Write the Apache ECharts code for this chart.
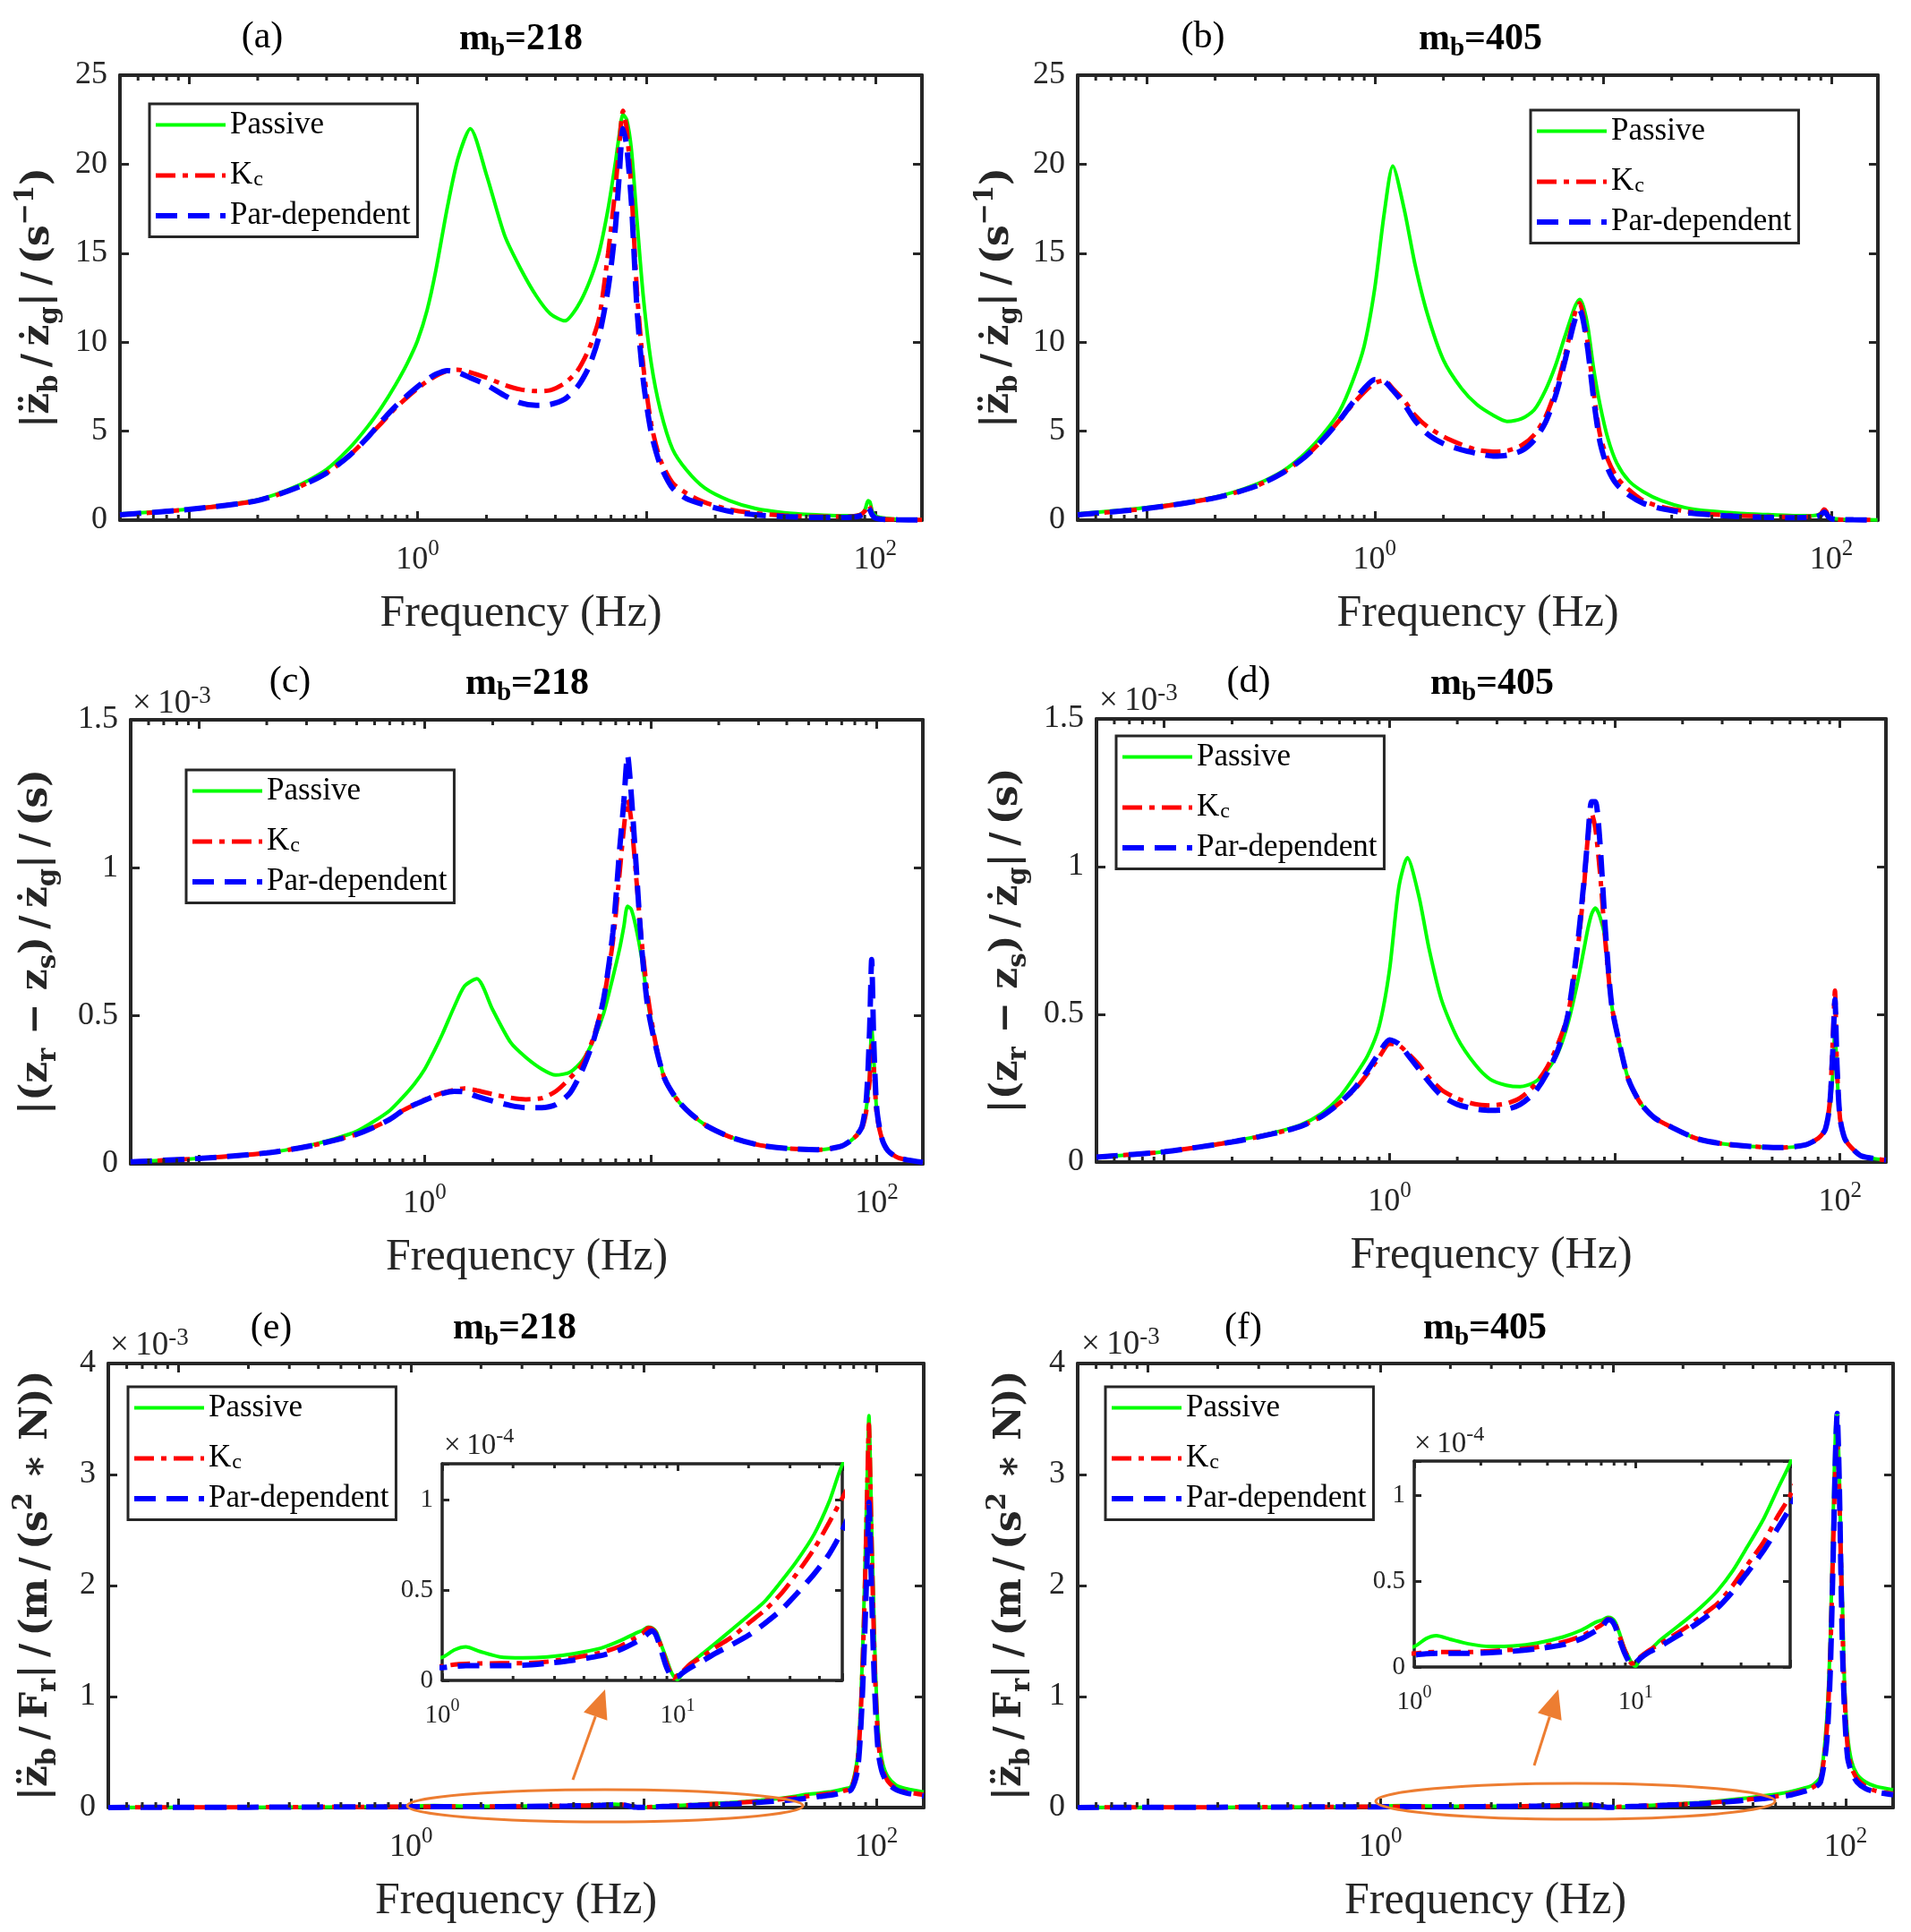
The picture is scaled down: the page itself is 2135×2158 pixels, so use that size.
<!DOCTYPE html>
<html>
<head>
<meta charset="utf-8">
<script src="https://cdn.jsdelivr.net/npm/echarts@6/dist/echarts.min.js"></script>
<style>
  html, body { margin: 0; padding: 0; background: #fff; }
  #chart { width: 2135px; height: 2158px; }
</style>
</head>
<body>
<div id="chart"></div>
<script>
// ---- data ----
const seriesNames = ['Passive', 'Kc', 'Par-dependent'];

// frequency grid (Hz) for panels a-d
const freqAD = [0.05, 0.1, 0.2, 0.3, 0.4, 0.5, 0.6, 0.7, 0.8, 0.9,
  1.0, 1.1, 1.2, 1.35, 1.5, 1.7, 2.0, 2.4, 2.8, 3.3,
  3.8, 4.4, 5.0, 5.6, 6.2, 6.8, 7.3, 7.6, 7.9, 8.2,
  8.6, 9.1, 9.7, 10.5, 11.5, 13, 15, 18, 23, 30,
  40, 55, 70, 80, 86, 90, 93, 95, 97, 100,
  105, 112, 125, 160];

// (a) mb=218, body acc / road vel (1/s)
const passiveA = [0.35, 0.62, 1.15, 1.95, 2.85, 4.0, 5.2, 6.4, 7.6, 8.8,
  10.1, 11.8, 14.0, 17.6, 20.3, 22.0, 19.4, 16.0, 14.2, 12.6,
  11.6, 11.2, 12.0, 13.3, 15.0, 17.5, 20.0, 21.6, 22.8, 22.5,
  20.8, 16.8, 12.5, 8.8, 6.2, 4.0, 2.8, 1.8, 1.1, 0.65,
  0.42, 0.3, 0.25, 0.25, 0.32, 0.55, 1.1, 1.0, 0.5, 0.25,
  0.15, 0.1, 0.05, 0.02];
const kcA = [0.3, 0.6, 1.1, 1.85, 2.65, 3.6, 4.6, 5.5, 6.3, 6.9,
  7.4, 7.8, 8.1, 8.4, 8.45, 8.3, 8.0, 7.6, 7.35, 7.25,
  7.3, 7.7, 8.4, 9.6, 11.3, 15.0, 18.5, 21.0, 23.0, 22.0,
  18.5, 12.8, 8.6, 5.4, 3.4, 2.1, 1.5, 1.0, 0.6, 0.38,
  0.27, 0.2, 0.2, 0.22, 0.3, 0.5, 0.85, 0.7, 0.35, 0.15,
  0.08, 0.05, 0.03, 0.01];
const parA = [0.3, 0.6, 1.1, 1.85, 2.65, 3.6, 4.6, 5.6, 6.4, 7.0,
  7.5, 7.9, 8.2, 8.4, 8.3, 8.0, 7.6, 7.0, 6.6, 6.45,
  6.5, 6.8, 7.5, 8.6, 10.3, 13.0, 16.3, 19.3, 22.0, 21.0,
  17.8, 11.8, 7.8, 4.9, 3.1, 1.8, 1.2, 0.85, 0.5, 0.3,
  0.2, 0.15, 0.15, 0.18, 0.25, 0.4, 0.7, 0.55, 0.3, 0.12,
  0.06, 0.04, 0.02, 0.01];

// (b) mb=405
const passiveB = [0.35, 0.7, 1.3, 2.0, 2.8, 3.8, 4.9, 6.1, 7.8, 9.8,
  13.0, 17.2, 19.9, 17.4, 14.4, 11.6, 9.0, 7.4, 6.5, 5.9,
  5.55, 5.7, 6.2, 7.3, 8.7, 10.3, 11.5, 12.1, 12.4, 12.0,
  10.8, 8.5, 6.5, 4.6, 3.2, 2.2, 1.6, 1.1, 0.7, 0.5,
  0.38, 0.3, 0.25, 0.25, 0.28, 0.35, 0.45, 0.4, 0.25, 0.12,
  0.07, 0.05, 0.03, 0.01];
const kcB = [0.3, 0.65, 1.25, 1.9, 2.7, 3.6, 4.6, 5.6, 6.5, 7.2,
  7.7, 7.85, 7.4, 6.7, 5.9, 5.25, 4.7, 4.25, 3.95, 3.85,
  3.9, 4.2, 4.8, 5.8, 7.3, 9.2, 10.9, 11.8, 12.2, 11.5,
  9.8, 7.2, 4.8, 3.4, 2.4, 1.7, 1.1, 0.75, 0.5, 0.33,
  0.25, 0.2, 0.18, 0.2, 0.25, 0.35, 0.6, 0.5, 0.25, 0.1,
  0.05, 0.03, 0.02, 0.01];
const parB = [0.3, 0.65, 1.25, 1.9, 2.7, 3.6, 4.6, 5.6, 6.6, 7.4,
  7.9, 7.8, 7.3, 6.5, 5.6, 4.85, 4.3, 3.95, 3.75, 3.6,
  3.65, 3.9, 4.5, 5.5, 7.0, 8.9, 10.6, 11.4, 11.8, 11.2,
  9.5, 6.8, 4.4, 2.9, 2.0, 1.4, 0.95, 0.65, 0.42, 0.3,
  0.2, 0.15, 0.14, 0.15, 0.2, 0.3, 0.45, 0.38, 0.2, 0.08,
  0.04, 0.03, 0.02, 0.01];

// (c) mb=218, suspension travel / road vel, units of 1e-3 s
const passiveC = [0.007, 0.018, 0.037, 0.06, 0.085, 0.11, 0.145, 0.18, 0.225, 0.27,
  0.32, 0.38, 0.44, 0.53, 0.6, 0.625, 0.52, 0.41, 0.36, 0.32,
  0.3, 0.31, 0.35, 0.42, 0.51, 0.63, 0.73, 0.8, 0.87, 0.86,
  0.8, 0.7, 0.55, 0.41, 0.29, 0.22, 0.17, 0.125, 0.088, 0.064,
  0.052, 0.048, 0.06, 0.09, 0.125, 0.19, 0.3, 0.46, 0.36, 0.18,
  0.09, 0.045, 0.02, 0.005];
const kcC = [0.007, 0.018, 0.037, 0.058, 0.08, 0.1, 0.125, 0.15, 0.18, 0.2,
  0.217, 0.23, 0.24, 0.25, 0.255, 0.248, 0.235, 0.223, 0.218, 0.222,
  0.245, 0.29, 0.34, 0.43, 0.56, 0.75, 0.99, 1.13, 1.23, 1.16,
  0.98, 0.76, 0.57, 0.41, 0.29, 0.22, 0.17, 0.125, 0.088, 0.064,
  0.052, 0.048, 0.06, 0.09, 0.12, 0.18, 0.28, 0.4, 0.33, 0.17,
  0.09, 0.045, 0.02, 0.005];
const parC = [0.007, 0.018, 0.037, 0.058, 0.08, 0.1, 0.125, 0.15, 0.18, 0.2,
  0.215, 0.228, 0.238, 0.245, 0.243, 0.228, 0.212, 0.197, 0.19, 0.19,
  0.2, 0.24, 0.32, 0.42, 0.56, 0.78, 1.07, 1.22, 1.38, 1.25,
  1.02, 0.74, 0.53, 0.4, 0.29, 0.22, 0.17, 0.125, 0.088, 0.064,
  0.052, 0.048, 0.06, 0.09, 0.125, 0.22, 0.45, 0.69, 0.42, 0.19,
  0.09, 0.045, 0.02, 0.005];

// (d) mb=405, units of 1e-3 s
const passiveD = [0.017, 0.035, 0.07, 0.098, 0.125, 0.165, 0.22, 0.29, 0.36, 0.46,
  0.65, 0.93, 1.03, 0.9, 0.72, 0.55, 0.42, 0.33, 0.28, 0.26,
  0.255, 0.27, 0.31, 0.37, 0.47, 0.6, 0.72, 0.79, 0.84, 0.86,
  0.83, 0.75, 0.53, 0.4, 0.28, 0.2, 0.15, 0.117, 0.08, 0.062,
  0.053, 0.049, 0.058, 0.08, 0.11, 0.18, 0.3, 0.45, 0.3, 0.15,
  0.08, 0.05, 0.02, 0.007];
const kcD = [0.017, 0.035, 0.068, 0.095, 0.12, 0.155, 0.2, 0.245, 0.3, 0.355,
  0.4, 0.395, 0.37, 0.33, 0.285, 0.245, 0.215, 0.196, 0.192, 0.198,
  0.217, 0.26, 0.32, 0.4, 0.5, 0.7, 0.93, 1.1, 1.18, 1.13,
  0.98, 0.74, 0.53, 0.4, 0.28, 0.2, 0.15, 0.117, 0.08, 0.062,
  0.053, 0.049, 0.058, 0.08, 0.11, 0.2, 0.42, 0.58, 0.32, 0.15,
  0.08, 0.05, 0.02, 0.007];
const parD = [0.017, 0.035, 0.068, 0.095, 0.12, 0.155, 0.2, 0.25, 0.31, 0.37,
  0.414, 0.4, 0.365, 0.315, 0.27, 0.225, 0.195, 0.18, 0.175, 0.178,
  0.195, 0.235, 0.3, 0.38, 0.5, 0.72, 0.95, 1.1, 1.22, 1.22,
  1.08, 0.78, 0.53, 0.4, 0.28, 0.2, 0.15, 0.117, 0.08, 0.062,
  0.053, 0.049, 0.058, 0.08, 0.11, 0.19, 0.38, 0.55, 0.33, 0.15,
  0.08, 0.05, 0.02, 0.007];

// frequency grid (Hz) for panels e-f and their insets
const freqEF = [0.05, 0.1, 0.2, 0.4, 0.7, 1.0, 1.13, 1.26, 1.45, 1.76,
  2.2, 2.8, 3.6, 4.7, 5.7, 6.6, 7.1, 7.5, 7.8, 8.1,
  8.5, 8.9, 9.3, 9.6, 10.0, 10.5, 11.3, 12.9, 14.6, 17.1,
  20, 23.5, 27.5, 32, 38, 44, 50, 57, 65, 72,
  78, 83, 86, 88.5, 90.5, 92, 93, 94, 95.5, 97,
  99, 102, 106, 112, 122, 135, 160];

// (e) mb=218, body acc / tyre force, units of 1e-3
const passiveE = [0.001, 0.002, 0.003, 0.005, 0.008, 0.0128, 0.017, 0.0186, 0.016, 0.013,
  0.0125, 0.013, 0.0148, 0.0178, 0.022, 0.026, 0.0278, 0.0295, 0.029, 0.027,
  0.02, 0.013, 0.006, 0.0025, 0.0005, 0.004, 0.0093, 0.0153, 0.021, 0.0285,
  0.036, 0.044, 0.0548, 0.066, 0.081, 0.099, 0.1195, 0.13, 0.145, 0.165,
  0.19, 0.45, 1.0, 1.8, 2.6, 3.2, 3.53, 3.25, 2.55, 2.0,
  1.3, 0.7, 0.42, 0.28, 0.2, 0.17, 0.14];
const kcE = [0.001, 0.002, 0.003, 0.005, 0.007, 0.0079, 0.0088, 0.0092, 0.0094, 0.0095,
  0.0095, 0.0104, 0.0125, 0.0153, 0.019, 0.0235, 0.026, 0.029, 0.0285, 0.026,
  0.019, 0.011, 0.0045, 0.0013, 0.003, 0.005, 0.009, 0.0137, 0.0186, 0.0243,
  0.0317, 0.039, 0.048, 0.059, 0.073, 0.0875, 0.101, 0.115, 0.13, 0.15,
  0.175, 0.4, 0.9, 1.65, 2.45, 3.1, 3.45, 3.1, 2.4, 1.8,
  1.15, 0.6, 0.36, 0.24, 0.17, 0.14, 0.115];
const parE = [0.001, 0.002, 0.003, 0.005, 0.0065, 0.0071, 0.0078, 0.0082, 0.0082, 0.0082,
  0.0084, 0.0095, 0.0112, 0.0137, 0.017, 0.021, 0.0235, 0.0262, 0.0275, 0.025,
  0.017, 0.0085, 0.003, 0.0015, 0.002, 0.0042, 0.007, 0.0112, 0.0153, 0.02,
  0.025, 0.0317, 0.039, 0.048, 0.059, 0.07, 0.083, 0.1, 0.115, 0.135,
  0.16, 0.33, 0.75, 1.35, 1.95, 2.45, 2.75, 2.5, 1.95, 1.45,
  0.95, 0.5, 0.32, 0.22, 0.16, 0.13, 0.105];

// (f) mb=405, units of 1e-3
const passiveF = [0.001, 0.002, 0.003, 0.005, 0.008, 0.0119, 0.0165, 0.0182, 0.0162, 0.0135,
  0.012, 0.0123, 0.014, 0.0175, 0.0215, 0.026, 0.0275, 0.029, 0.0285, 0.0262,
  0.019, 0.011, 0.006, 0.0026, 0.0005, 0.0045, 0.0082, 0.0155, 0.021, 0.028,
  0.0355, 0.0445, 0.056, 0.07, 0.0865, 0.104, 0.119, 0.14, 0.17, 0.2,
  0.28, 0.8, 1.55, 2.65, 3.4, 3.55, 3.3, 3.0, 2.35, 1.8,
  1.1, 0.65, 0.42, 0.3, 0.23, 0.19, 0.16];
const kcF = [0.001, 0.002, 0.003, 0.005, 0.007, 0.0079, 0.0085, 0.0087, 0.0087, 0.0087,
  0.0093, 0.0101, 0.0116, 0.0145, 0.018, 0.0225, 0.025, 0.028, 0.0275, 0.025,
  0.0175, 0.0105, 0.005, 0.002, 0.0025, 0.0058, 0.009, 0.0135, 0.0178, 0.0235,
  0.03, 0.037, 0.0475, 0.0595, 0.073, 0.088, 0.1, 0.12, 0.15, 0.18,
  0.25, 0.7, 1.4, 2.4, 3.1, 3.3, 3.1, 2.8, 2.2, 1.6,
  1.0, 0.55, 0.36, 0.26, 0.19, 0.15, 0.125];
const parF = [0.001, 0.002, 0.003, 0.005, 0.0065, 0.007, 0.0077, 0.0079, 0.0079, 0.0079,
  0.0084, 0.0092, 0.0106, 0.013, 0.0165, 0.021, 0.0238, 0.0275, 0.027, 0.0235,
  0.0155, 0.0085, 0.0035, 0.0017, 0.0025, 0.005, 0.008, 0.012, 0.0162, 0.0215,
  0.0275, 0.0345, 0.044, 0.055, 0.068, 0.081, 0.093, 0.11, 0.14, 0.17,
  0.23, 0.6, 1.25, 2.3, 3.2, 3.55, 3.3, 2.9, 2.1, 1.4,
  0.85, 0.45, 0.32, 0.23, 0.17, 0.14, 0.115];

const panelTags = ['(a)', '(b)', '(c)', '(d)', '(e)', '(f)'];
const massLabels = ['218', '405', '218', '405', '218', '405'];

// ---- styling ----
const INK = '#262626';
const ORANGE = '#ED7D31';
const SERIF = 'Liberation Serif';
const MATH = 'DejaVu Serif';
const colors = ['#00ff00', '#ff0000', '#0000ff'];
const widths = [4, 5, 6];
const dashes = ['solid', [22, 8, 6, 8], [24, 12]];

const mathRich = {
  n: { fontFamily: MATH, fontWeight: 'bold', fontSize: 42, lineHeight: 56, color: INK, verticalAlign: 'middle' },
  sub: { fontFamily: MATH, fontWeight: 'bold', fontSize: 29, lineHeight: 34, color: INK, verticalAlign: 'bottom' },
  sup: { fontFamily: MATH, fontWeight: 'bold', fontSize: 29, lineHeight: 34, color: INK, verticalAlign: 'top' }
};
const T = '\u2009';
const nameAB = '{n||z\u0308}{sub|b}{n|' + T + '/' + T + 'z\u0307}{sub|g}{n||' + T + '/' + T + '(s}{sup|\u22121}{n|)}';
const nameCD = '{n||(z}{sub|r}{n| \u2212 z}{sub|s}{n|)' + T + '/' + T + 'z\u0307}{sub|g}{n||' + T + '/' + T + '(s)}';
const nameEF = '{n||z\u0308}{sub|b}{n|' + T + '/' + T + 'F}{sub|r}{n||' + T + '/' + T + '(m' + T + '/' + T + '(s}{sup|2}{n| \u2217 N))}';

const panels = [
  { rect: [134, 84, 896, 497], xs: freqAD, ys: [passiveA, kcA, parA], yMax: 25, yStep: 5, name: nameAB, yGap: 63, legend: [167, 116], tag: [293, 42], title: [582, 44] },
  { rect: [1204, 84, 894, 497], xs: freqAD, ys: [passiveB, kcB, parB], yMax: 25, yStep: 5, name: nameAB, yGap: 61, legend: [1710, 123], tag: [1344, 42], title: [1654, 44] },
  { rect: [146, 804, 885, 496], xs: freqAD, ys: [passiveC, kcC, parC], yMax: 1.5, yStep: 0.5, name: nameCD, yGap: 77, legend: [208, 860], tag: [324, 762], title: [589, 764], exp: [148, 786] },
  { rect: [1225, 803, 882, 495], xs: freqAD, ys: [passiveD, kcD, parD], yMax: 1.5, yStep: 0.5, name: nameCD, yGap: 72, legend: [1247, 822], tag: [1395, 762], title: [1667, 764], exp: [1228, 783] },
  { rect: [121, 1523, 911, 496], xs: freqEF, ys: [passiveE, kcE, parE], yMax: 4, yStep: 1, name: nameEF, yGap: 52, legend: [143, 1549], tag: [303, 1484], title: [575, 1484], exp: [123, 1503] },
  { rect: [1204, 1523, 911, 496], xs: freqEF, ys: [passiveF, kcF, parF], yMax: 4, yStep: 1, name: nameEF, yGap: 47, legend: [1235, 1549], tag: [1389, 1484], title: [1659, 1484], exp: [1208, 1502] }
];
const insets = [
  { rect: [494, 1635, 447, 242], xs: freqEF, ys: [passiveE, kcE, parE], exp: [496, 1615] },
  { rect: [1580, 1632, 420, 230], xs: freqEF, ys: [passiveF, kcF, parF], exp: [1580, 1613] }
];

function near(a, b) { return Math.abs(a - b) < 1e-6 * Math.max(1, Math.abs(b)); }
function minorList(lo, hi) {
  const out = [];
  [0.01, 0.1, 1, 10, 100].forEach(d => { for (let k = 2; k <= 9; k++) { const v = d * k; if (v > lo * 1.001 && v < hi * 0.999) out.push(v); } });
  return out;
}

const grid = [], xAxis = [], yAxis = [], series = [], legend = [], elements = [];

function addPanel(gi, cfg, main) {
  const [l, t, w, h] = cfg.rect;
  const xMin = main ? 0.05 : 1, xMax = main ? 160 : 50;
  const lw = main ? 4 : 3.5;
  const tickLen = main ? 10 : 8;
  grid.push(main
    ? { left: l, top: t, width: w, height: h, containLabel: false, outerBoundsMode: 'none' }
    : { left: l, top: t, width: w, height: h, containLabel: false, outerBoundsMode: 'none', show: true, backgroundColor: '#fff', borderWidth: 0, z: 5 });
  const line = { show: true, onZero: false, lineStyle: { color: INK, width: lw } };
  const tick = { show: true, inside: true, length: tickLen, lineStyle: { color: INK, width: 3 } };
  const fs = main ? 36 : 29;
  const xRich = {
    b: { fontFamily: SERIF, fontSize: fs, lineHeight: main ? 50 : 40, color: INK, verticalAlign: 'middle' },
    s: { fontFamily: SERIF, fontSize: main ? 25 : 20, lineHeight: main ? 24 : 20, color: INK, verticalAlign: 'top' }
  };
  const z = main ? 2 : 6;
  xAxis.push({
    type: 'log', logBase: 10, gridIndex: gi, position: 'bottom', min: xMin, max: xMax, z,
    axisLine: line, axisTick: tick, splitLine: { show: false },
    axisLabel: {
      margin: main ? 20 : 19, rich: xRich,
      formatter: v => near(v, 1) ? '{b|10}{s|0}' : (main && near(v, 100)) ? '{b|10}{s|2}' : (!main && near(v, 10)) ? '{b|10}{s|1}' : ''
    },
    name: main ? 'Frequency (Hz)' : '', nameLocation: 'middle', nameGap: 76,
    nameTextStyle: { fontFamily: SERIF, fontSize: 50, color: INK, lineHeight: 58 }
  });
  xAxis.push({
    type: 'log', logBase: 10, gridIndex: gi, position: 'top', min: xMin, max: xMax, z,
    axisLine: line, axisTick: tick, splitLine: { show: false }, axisLabel: { show: false }
  });
  const yMax = main ? cfg.yMax : 0.12, yStep = main ? cfg.yStep : 0.05;
  yAxis.push({
    type: 'value', gridIndex: gi, position: 'left', min: 0, max: yMax, interval: yStep, z,
    axisLine: line, axisTick: tick, splitLine: { show: false },
    axisLabel: {
      margin: main ? 14 : 10, fontFamily: SERIF, fontSize: fs, color: INK,
      formatter: v => main ? String(+v.toFixed(2)) : (near(v, 0.12) ? '' : String(+(v * 10).toFixed(2)))
    },
    name: main ? cfg.name : '', nameLocation: 'middle', nameRotate: 90, nameGap: main ? cfg.yGap : 0,
    nameTextStyle: { rich: mathRich, fontFamily: MATH, fontSize: 42, fontWeight: 'bold', color: INK }
  });
  yAxis.push({
    type: 'value', gridIndex: gi, position: 'right', min: 0, max: yMax, interval: yStep, z,
    axisLine: line, axisTick: tick, splitLine: { show: false }, axisLabel: { show: false }
  });

  // curves
  for (let k = 0; k < 3; k++) {
    series.push({
      type: 'line', name: seriesNames[k], xAxisIndex: 2 * gi, yAxisIndex: 2 * gi,
      data: cfg.xs.map((f, i) => [f, cfg.ys[k][i]]),
      showSymbol: false, symbol: 'none', smooth: 0.25, clip: true, silent: true,
      lineStyle: { color: colors[k], width: widths[k], type: dashes[k], cap: 'butt' },
      itemStyle: { color: colors[k] }, emphasis: { disabled: true },
      z: main ? 3 + k : 10 + k
    });
  }
  // log minor ticks on bottom and top edges
  const mlen = main ? 6 : 5;
  series.push({
    type: 'custom', xAxisIndex: 2 * gi, yAxisIndex: 2 * gi, silent: true, clip: false,
    z: main ? 7 : 14,
    data: minorList(xMin, xMax).map(v => [v, 0]),
    renderItem: (params, api) => {
      const cs = params.coordSys;
      const x = api.coord([api.value(0), 0])[0];
      const st = { stroke: INK, lineWidth: 3 };
      return {
        type: 'group', children: [
          { type: 'line', shape: { x1: x, y1: cs.y + cs.height, x2: x, y2: cs.y + cs.height - mlen }, style: st },
          { type: 'line', shape: { x1: x, y1: cs.y, x2: x, y2: cs.y + mlen }, style: st }
        ]
      };
    }
  });

  if (main) {
    legend.push({
      data: seriesNames, orient: 'vertical', left: cfg.legend[0], top: cfg.legend[1],
      itemWidth: 78, itemHeight: 14, itemGap: 10, padding: [6, 8, 6, 4],
      borderColor: INK, borderWidth: 3, backgroundColor: '#fff', selectedMode: false,
      itemStyle: { opacity: 0 }, lineStyle: { width: 'inherit' },
      textStyle: {
        fontFamily: SERIF, fontSize: 35, color: '#000', lineHeight: 34,
        rich: { sub: { fontFamily: SERIF, fontSize: 24, lineHeight: 22, verticalAlign: 'bottom', padding: [22, 0, 0, 1], color: '#000' } }
      },
      formatter: n => n === 'Kc' ? 'K{sub|c}' : n
    });
    elements.push({
      type: 'text', x: cfg.tag[0], y: cfg.tag[1], z: 100,
      style: { text: panelTags[gi], fontFamily: SERIF, fontSize: 42, fill: '#000', align: 'center', verticalAlign: 'middle' }
    });
    elements.push({
      type: 'text', x: cfg.title[0], y: cfg.title[1], z: 100,
      style: {
        text: '{n|m}{sub|b}{n|=' + massLabels[gi] + '}', align: 'center', verticalAlign: 'middle',
        rich: {
          n: { fontFamily: SERIF, fontWeight: 'bold', fontSize: 42, lineHeight: 50, fill: '#000', verticalAlign: 'middle' },
          sub: { fontFamily: SERIF, fontWeight: 'bold', fontSize: 29, lineHeight: 28, fill: '#000', verticalAlign: 'bottom' }
        }
      }
    });
  }
  if (cfg.exp) {
    const e = main ? '-3' : '-4';
    elements.push({
      type: 'text', x: cfg.exp[0], y: cfg.exp[1], z: 100,
      style: {
        text: '{b|\u00d7' + T + '10}{s|' + e + '}', align: 'left', verticalAlign: 'middle',
        fontFamily: SERIF, fontSize: main ? 37 : 33,
        rich: {
          b: { fontFamily: SERIF, fontSize: main ? 37 : 33, lineHeight: 44, fill: INK, verticalAlign: 'middle' },
          s: { fontFamily: SERIF, fontSize: main ? 27 : 24, lineHeight: 26, fill: INK, verticalAlign: 'top' }
        }
      }
    });
  }
}

panels.forEach((p, i) => addPanel(i, p, true));
insets.forEach((p, i) => addPanel(panels.length + i, p, false));

// orange highlight ellipses and arrows (annotation)
function arrow(x1, y1, x2, y2) {
  const dx = x2 - x1, dy = y2 - y1, len = Math.hypot(dx, dy), ux = dx / len, uy = dy / len;
  const hl = 32, hw = 14, bx = x2 - ux * hl, by = y2 - uy * hl;
  return [
    { type: 'line', z: 100, shape: { x1: x1, y1: y1, x2: bx, y2: by }, style: { stroke: ORANGE, lineWidth: 3 } },
    { type: 'polygon', z: 100, shape: { points: [[x2, y2], [bx - uy * hw, by + ux * hw], [bx + uy * hw, by - ux * hw]] }, style: { fill: ORANGE } }
  ];
}
elements.push({ type: 'ellipse', z: 100, shape: { cx: 676, cy: 2017, rx: 221, ry: 18 }, style: { fill: 'none', stroke: ORANGE, lineWidth: 3 } });
elements.push({ type: 'ellipse', z: 100, shape: { cx: 1760, cy: 2012, rx: 223, ry: 20 }, style: { fill: 'none', stroke: ORANGE, lineWidth: 3 } });
elements.push(...arrow(640, 1988, 676, 1887));
elements.push(...arrow(1714, 1972, 1741, 1887));

const chart = echarts.init(document.getElementById('chart'), null, { width: 2135, height: 2158 });
chart.setOption({
  animation: false,
  backgroundColor: '#fff',
  grid: grid,
  xAxis: xAxis,
  yAxis: yAxis,
  legend: legend,
  series: series,
  graphic: { elements: elements }
});
</script>
</body>
</html>
